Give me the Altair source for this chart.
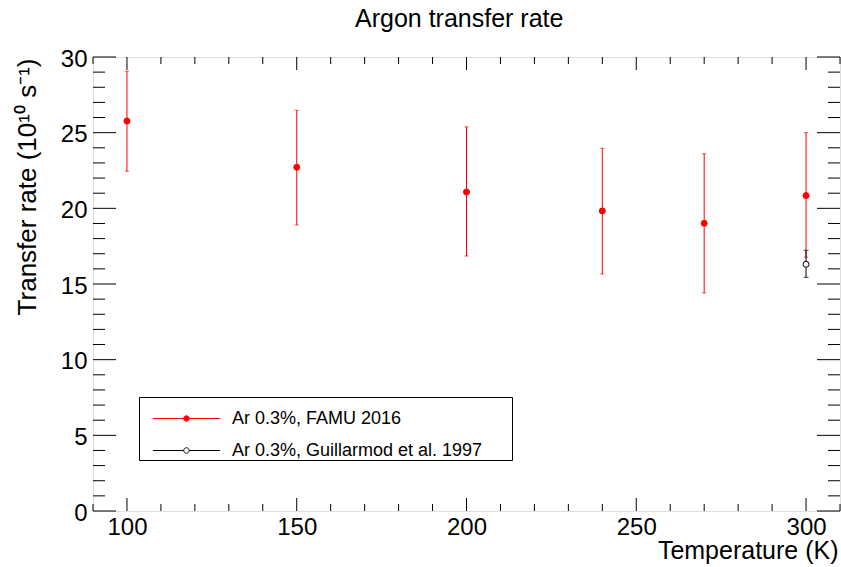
import altair as alt
import pandas as pd

# ---- data ----
temps_famu = [100, 150, 200, 240, 270, 300]
rate_famu = [25.77, 22.71, 21.08, 19.83, 19.01, 20.84]
hi_famu = [29.06, 26.48, 25.38, 23.97, 23.60, 25.00]
lo_famu = [22.45, 18.90, 16.85, 15.66, 14.41, 16.77]

temps_guil = [300]
rate_guil = [16.30]
hi_guil = [17.23]
lo_guil = [15.44]

series_names = ["Ar 0.3%, FAMU 2016", "Ar 0.3%, Guillarmod et al. 1997"]
chart_title = ["Argon transfer rate"]

x_major = [100, 150, 200, 250, 300]
x_minor = [90, 110, 120, 130, 140, 160, 170, 180, 190, 210, 220, 230, 240,
           260, 270, 280, 290, 310]
y_major = [0, 5, 10, 15, 20, 25, 30]
y_minor = [v for v in range(0, 31) if v not in y_major]

# ---- tables ----
df_famu = pd.DataFrame({"T": temps_famu, "R": rate_famu, "hi": hi_famu, "lo": lo_famu})
df_guil = pd.DataFrame({"T": temps_guil, "R": rate_guil, "hi": hi_guil, "lo": lo_guil})
df_pts = pd.concat([
    df_famu.assign(series=series_names[0]),
    df_guil.assign(series=series_names[1]),
], ignore_index=True)

W, H = 747, 454
FONT = "Liberation Sans"
xs = alt.Scale(domain=[90, 310], nice=False, zero=False)
ys = alt.Scale(domain=[0, 30], nice=False, zero=False)

xaxis = alt.Axis(
    values=x_major, title="Temperature (K)", grid=False, ticks=False, tickSize=0,
    domain=False, labelFont=FONT, labelFontSize=24, labelColor="black",
    labelPadding=4, labelFlush=False,
    titleFont=FONT, titleFontSize=25, titleFontWeight="normal", titleColor="black",
    titleAlign="right", titleBaseline="alphabetic", titleX=745, titleY=47)
yaxis = alt.Axis(
    values=y_major, title="Transfer rate (10¹⁰ s⁻¹)", grid=False, ticks=False,
    tickSize=0, domain=False, labelFont=FONT, labelFontSize=24, labelColor="black",
    labelPadding=6, labelOffset=2, labelFlush=False,
    titleFont=FONT, titleFontSize=26, titleFontWeight="normal", titleColor="black",
    titleAngle=270, titleAlign="right", titleBaseline="alphabetic",
    titleX=-58, titleY=1)

def xticks(vals, y0, y1):
    return alt.Chart(pd.DataFrame({"T": vals})).mark_rule(color="black", strokeWidth=1).encode(
        x=alt.X("T:Q", scale=xs, axis=xaxis), y=alt.value(y0), y2=alt.value(y1))

def yticks(vals, x0, x1):
    return alt.Chart(pd.DataFrame({"R": vals})).mark_rule(color="black", strokeWidth=1).encode(
        y=alt.Y("R:Q", scale=ys, axis=yaxis), x=alt.value(x0), x2=alt.value(x1))

ticks = [
    xticks(x_major, H, H - 13), xticks(x_minor, H, H - 7),
    xticks(x_major, 0, 13), xticks(x_minor, 0, 7),
    yticks(y_major, 0, 23), yticks(y_minor, 0, 12),
    yticks(y_major, W, W - 23), yticks(y_minor, W, W - 12),
]

def errbars(df, col, capw):
    base = alt.Chart(df)
    bars = base.mark_rule(color=col, strokeWidth=1).encode(
        x=alt.X("T:Q", scale=xs, axis=xaxis),
        y=alt.Y("lo:Q", scale=ys, axis=yaxis), y2="hi:Q")
    caps = base.transform_fold(["lo", "hi"], as_=["k", "v"]).mark_tick(
        color=col, orient="horizontal", size=capw, thickness=1).encode(
        x=alt.X("T:Q", scale=xs, axis=xaxis),
        y=alt.Y("v:Q", scale=ys, axis=yaxis))
    return [bars, caps]

sym = ("M-1.6,0H-0.13M0.13,0H1.6M-0.13,0A0.13,0.13,0,1,1,0.13,0"
       "A0.13,0.13,0,1,1,-0.13,0Z")
leg = alt.Legend(
    orient="none", legendX=46, legendY=340, direction="vertical",
    title="\u00a0", titleOrient="right", titlePadding=30, titleFontSize=18,
    symbolType=sym, symbolSize=1764, symbolStrokeWidth=1, symbolOffset=26,
    labelOffset=24, rowPadding=1, padding=0, strokeColor="black", fillColor="white",
    labelFont=FONT, labelFontSize=18, labelColor="black", labelLimit=600,
)

points = alt.Chart(df_pts).mark_point(shape="circle", size=36, opacity=1, strokeWidth=1).encode(
    x=alt.X("T:Q", scale=xs, axis=xaxis),
    y=alt.Y("R:Q", scale=ys, axis=yaxis),
    fill=alt.Fill("series:N", scale=alt.Scale(domain=series_names, range=["#ff0000", "#ffffff"]),
                  legend=leg),
    stroke=alt.Stroke("series:N", scale=alt.Scale(domain=series_names, range=["#ff0000", "#000000"]),
                      legend=leg),
)

title = alt.Chart(pd.DataFrame({"t": chart_title})).mark_text(
    align="left", baseline="alphabetic", font=FONT, fontSize=25, color="black"
).encode(text="t:N", x=alt.value(262), y=alt.value(-30))

layers = ticks + errbars(df_famu, "#ff0000", 4) + errbars(df_guil, "#000000", 5) + [points, title]

chart = alt.layer(*layers).properties(
    width=W, height=H,
    padding={"left": 93, "top": 57, "right": 1, "bottom": 56},
    autosize=alt.AutoSizeParams(type="none"),
).configure_view(stroke="black", strokeWidth=1).configure(background="white")

chart.save("out.html", embed_options={"renderer": "svg", "actions": False})
